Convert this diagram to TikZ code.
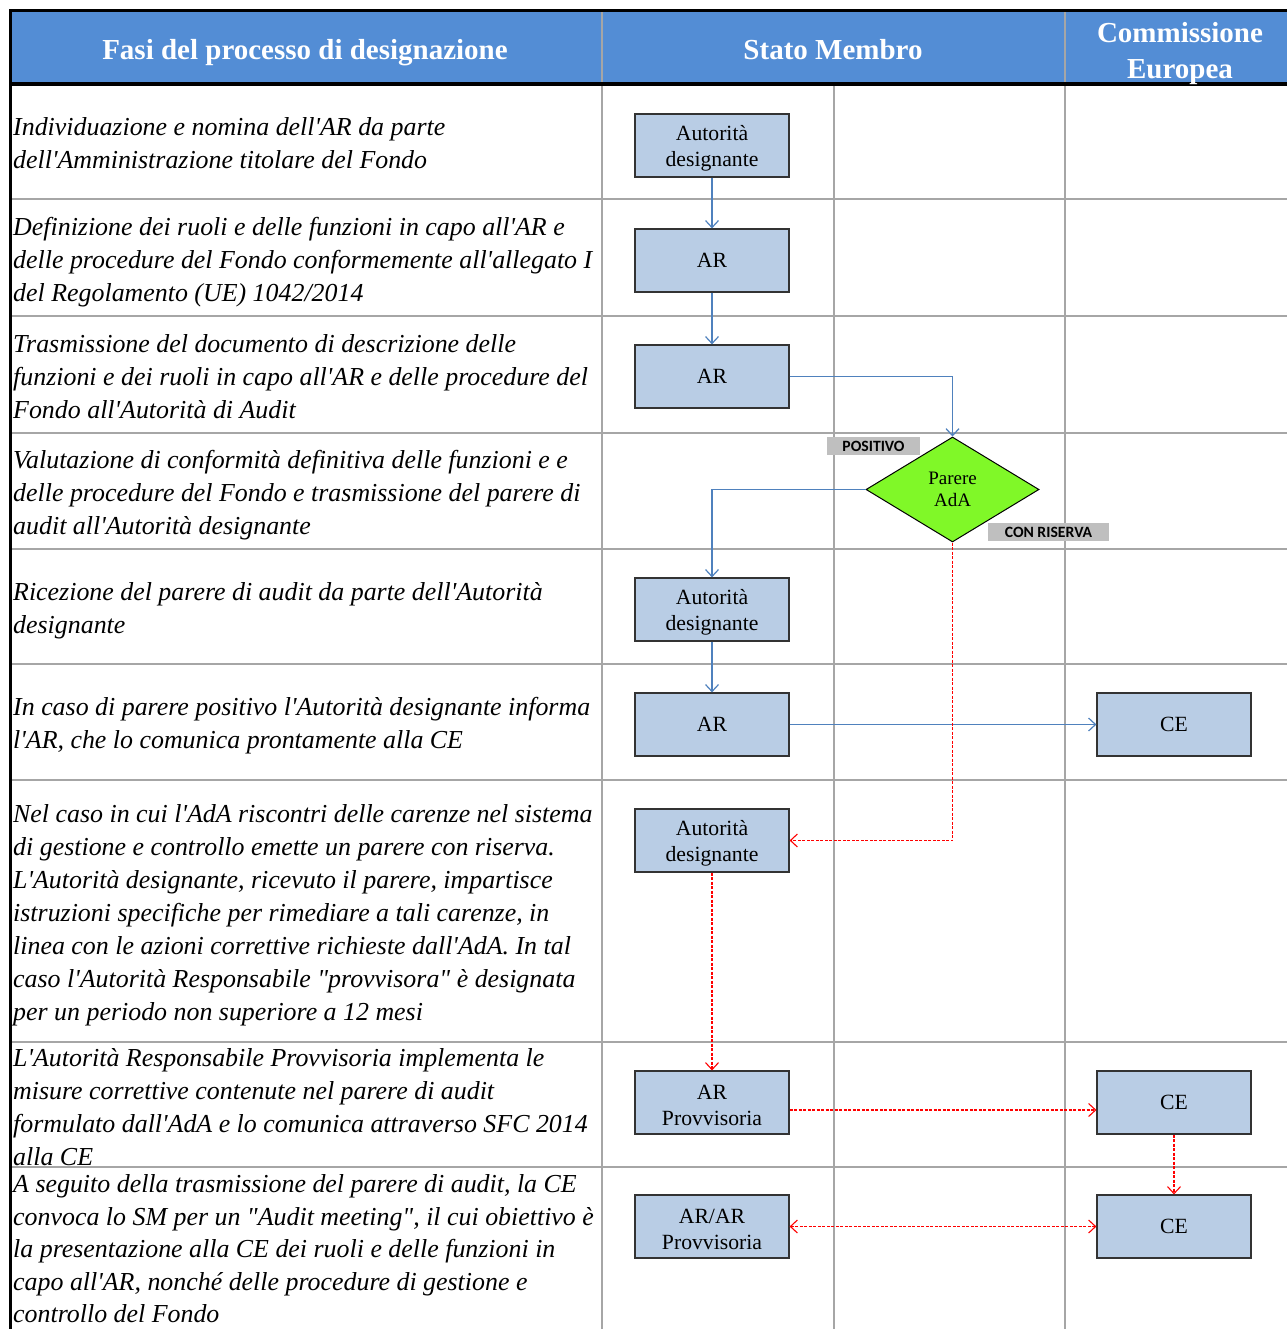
\documentclass[tikz,border=0pt]{standalone}
\usepackage{fontspec}
\usetikzlibrary{shapes.geometric,arrows.meta}
\newfontfamily\serif{Liberation Serif}
\newfontfamily\labfont{Carlito}
\newcommand\toppad{\rule{0pt}{20pt}}
\definecolor{headblue}{RGB}{83,141,213}
\definecolor{boxblue}{RGB}{185,205,229}
\definecolor{gridgray}{RGB}{166,166,166}
\definecolor{connblue}{RGB}{79,129,189}
\definecolor{diagreen}{RGB}{128,248,40}
\definecolor{labgray}{RGB}{191,191,191}
\tikzset{
  desc/.style={anchor=north west, inner sep=0pt, align=left,
    font=\serif\itshape\fontsize{25.9}{33}\selectfont},
  descb/.style={anchor=north west, inner sep=0pt, align=left,
    font=\serif\itshape\fontsize{25.9}{32.4}\selectfont},
  headtxt/.style={text=white, align=center, inner sep=0pt,
    font=\serif\bfseries\fontsize{29}{36}\selectfont},
  abox/.style={rectangle, draw=black!80, line width=1.2pt, fill=boxblue,
    minimum width=154pt, minimum height=63pt, inner sep=0pt, align=center,
    font=\serif\fontsize{21.7}{26}\selectfont},
  decision/.style={diamond, draw=black, line width=1pt, fill=diagreen,
    minimum width=173pt, minimum height=105pt, inner sep=0pt, align=center,
    font=\serif\fontsize{19}{22.5}\selectfont},
  tag/.style={rectangle, fill=labgray, inner sep=0pt, minimum height=18pt,
    font=\labfont\bfseries\fontsize{15.7}{17}\selectfont},
  gridline/.style={draw=gridgray, line width=2pt},
  blueflow/.style={draw=connblue, line width=1.2pt,
    -{Straight Barb[length=7pt,width=13pt]}},
  redflow/.style={draw=red, line width=1.1pt, dash pattern=on 3pt off 1.5pt,
    -{Straight Barb[length=7pt,width=13pt]}},
  redboth/.style={draw=red, line width=1.1pt, dash pattern=on 3pt off 1.5pt,
    {Straight Barb[length=7pt,width=13pt]}-{Straight Barb[length=7pt,width=13pt]}},
}
\begin{document}
\begin{tikzpicture}[x=1pt,y=-1pt]
\useasboundingbox (0,0) rectangle (1287,1329);
% header
\fill[headblue] (10,11) rectangle (1287,84);
% grid
\foreach \yy in {199,316,433,549,664,780,1042,1167}
  \draw[gridline] (10,\yy) -- (1287,\yy);
\draw[gridline] (602,11) -- (602,1329);
\draw[gridline] (1065,11) -- (1065,1329);
\draw[gridline] (834,85) -- (834,1329);
\draw[black, line width=3pt] (9,11) -- (1287,11);
\draw[black, line width=3.5pt] (9,84) -- (1287,84);
\draw[black, line width=3pt] (10,9.5) -- (10,1329);
% header texts
\node[headtxt] (h1) at (305,52.5) {Fasi del processo di designazione};
\node[headtxt] (h2) at (833,50) {Stato Membro};
\node[headtxt] (h3) at (1180,54) {Commissione\\Europea};
% description texts
\node[desc] (d1) at (13,112) {\strut Individuazione e nomina dell'AR da parte\\dell'Amministrazione titolare del Fondo};
\node[desc] (d2) at (13,212) {\strut Definizione dei ruoli e delle funzioni in capo all'AR e\\delle procedure del Fondo conformemente all'allegato I\\del Regolamento (UE) 1042/2014};
\node[desc] (d3) at (13,329) {\strut Trasmissione del documento di descrizione delle\\funzioni e dei ruoli in capo all'AR e delle procedure del\\Fondo all'Autorità di Audit};
\node[desc] (d4) at (13,445) {\strut Valutazione di conformità definitiva delle funzioni e e\\delle procedure del Fondo e trasmissione del parere di\\audit all'Autorità designante};
\node[desc] (d5) at (13,577) {\strut Ricezione del parere di audit da parte dell'Autorità\\designante};
\node[desc] (d6) at (13,692) {\strut In caso di parere positivo l'Autorità designante informa\\l'AR, che lo comunica prontamente alla CE};
\node[desc] (d7) at (13,799) {\strut Nel caso in cui l'AdA riscontri delle carenze nel sistema\\di gestione e controllo emette un parere con riserva.\\L'Autorità designante, ricevuto il parere, impartisce\\istruzioni specifiche per rimediare a tali carenze, in\\linea con le azioni correttive richieste dall'AdA. In tal\\caso l'Autorità Responsabile "provvisora" è designata\\per un periodo non superiore a 12 mesi};
\node[desc] (d8) at (13,1043) {\strut L'Autorità Responsabile Provvisoria implementa le\\misure correttive contenute nel parere di audit\\formulato dall'AdA e lo comunica attraverso SFC 2014\\alla CE};
\node[descb] (d9) at (13,1170) {\strut A seguito della trasmissione del parere di audit, la CE\\convoca lo SM per un "Audit meeting", il cui obiettivo è\\la presentazione alla CE dei ruoli e delle funzioni in\\capo all'AR, nonché delle procedure di gestione e\\controllo del Fondo};
% boxes
\node[abox] (b1) at (712,145.5) {\toppad Autorità\\designante};
\node[abox] (b2) at (712,260.5) {AR};
\node[abox] (b3) at (712,376.5) {AR};
\node[decision] (dia) at (952.5,489.5) {Parere\\AdA};
\node[abox] (b5) at (712,609.5) {\toppad Autorità\\designante};
\node[abox] (b6) at (712,724.5) {AR};
\node[abox] (ce1) at (1174,724.5) {CE};
\node[abox] (b7) at (712,840.5) {\toppad Autorità\\designante};
\node[abox] (b8) at (712,1102.5) {\toppad AR\\Provvisoria};
\node[abox] (ce2) at (1174,1102.5) {CE};
\node[abox] (b9) at (712,1226.5) {\toppad AR/AR\\Provvisoria};
\node[abox] (ce3) at (1174,1226.5) {CE};
% tags
\node[tag, minimum width=93pt] (tpos) at (873.5,446) {POSITIVO};
\node[tag, minimum width=121pt] (tcon) at (1048.5,532) {CON RISERVA};
% blue connectors
\draw[blueflow] (b1) -- (b2);
\draw[blueflow] (b2) -- (b3);
\draw[blueflow] (b3.east) -| (dia.north);
\draw[blueflow] (dia.west) -| (b5.north);
\draw[blueflow] (b5) -- (b6);
\draw[blueflow] (b6) -- (ce1);
% red connectors
\draw[redflow] (dia.south) |- (b7.east);
\draw[redflow] (b7) -- (b8);
\draw[redflow] ([yshift=-7.5pt]b8.east) -- ([yshift=-7.5pt]ce2.west);
\draw[redflow] (ce2) -- (ce3);
\draw[redboth] (b9) -- (ce3);
\end{tikzpicture}
\end{document}
